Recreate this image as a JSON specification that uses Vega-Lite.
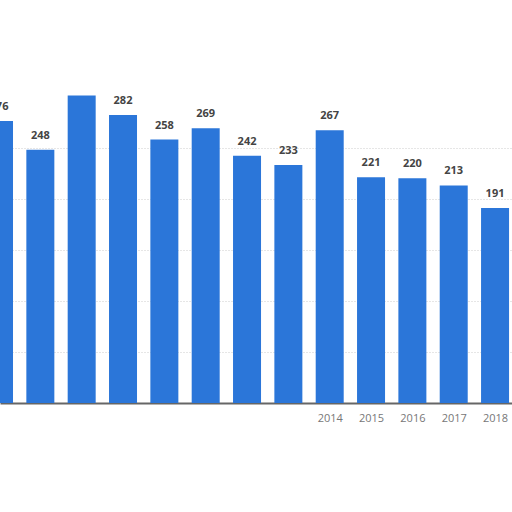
{
  "$schema": "https://vega.github.io/schema/vega-lite/v6.json",
  "width": 512,
  "height": 403,
  "autosize": {"type": "none"},
  "padding": {"left": 0, "top": 0, "right": 0, "bottom": 109},
  "background": "white",
  "config": {"view": {"stroke": null}, "font": "Open Sans"},
  "data": {
    "values": [
      {"year": 2006, "value": 276},
      {"year": 2007, "value": 248},
      {"year": 2008, "value": 301},
      {"year": 2009, "value": 282},
      {"year": 2010, "value": 258},
      {"year": 2011, "value": 269},
      {"year": 2012, "value": 242},
      {"year": 2013, "value": 233},
      {"year": 2014, "value": 267},
      {"year": 2015, "value": 221},
      {"year": 2016, "value": 220},
      {"year": 2017, "value": 213},
      {"year": 2018, "value": 191}
    ]
  },
  "encoding": {
    "x": {
      "field": "year",
      "type": "quantitative",
      "scale": {"domain": [2006.024, 2018.41], "nice": false, "zero": false, "padding": 0},
      "axis": {
        "values": [2014, 2015, 2016, 2017, 2018],
        "format": "d",
        "title": null,
        "grid": false,
        "ticks": false,
        "labelColor": "#777777",
        "labelFontSize": 11,
        "labelPadding": 9,
        "domainColor": "#666666",
        "domainWidth": 2
      }
    },
    "y": {
      "field": "value",
      "type": "quantitative",
      "scale": {"domain": [0, 394.6], "nice": false},
      "axis": {
        "values": [50, 100, 150, 200, 250],
        "title": null,
        "labels": false,
        "ticks": false,
        "domain": false,
        "gridColor": "#cccccc",
        "gridDash": [1, 2],
        "gridWidth": 1
      }
    }
  },
  "layer": [
    {
      "mark": {"type": "bar", "width": 28, "color": "#2b76d9", "clip": true}
    },
    {
      "transform": [{"filter": "datum.year != 2008"}],
      "mark": {
        "type": "text",
        "baseline": "bottom",
        "dy": -9,
        "fontSize": 11,
        "fontWeight": "bold",
        "color": "#444444"
      },
      "encoding": {"text": {"field": "value", "type": "quantitative"}}
    }
  ]
}
